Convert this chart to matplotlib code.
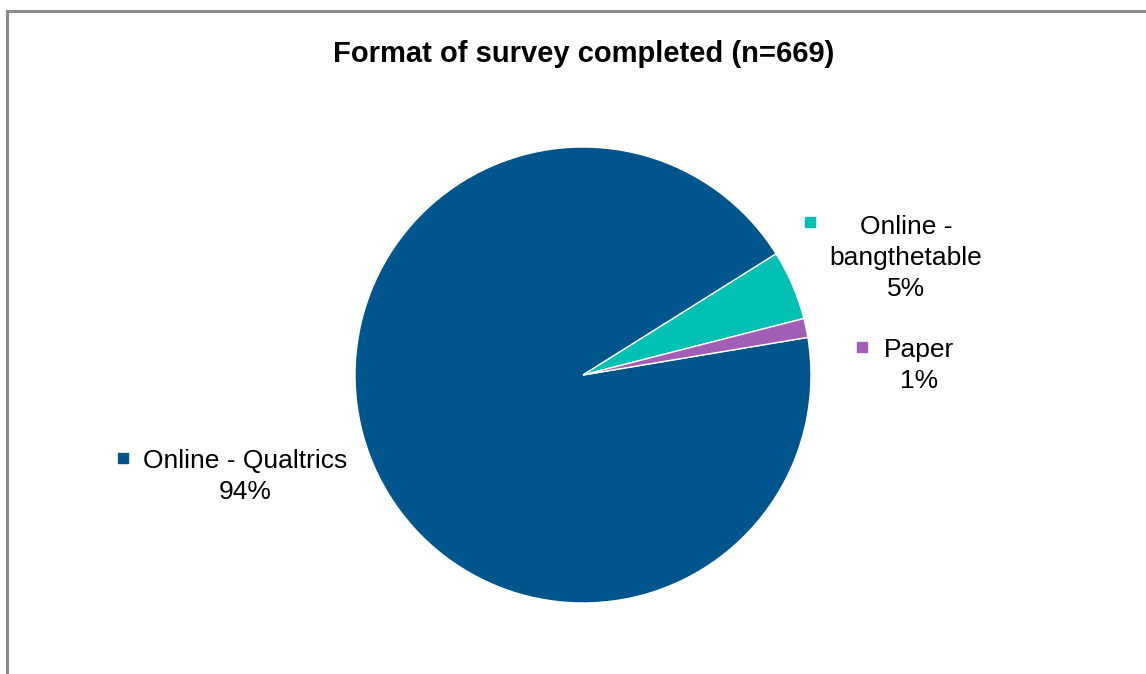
import numpy as np
import matplotlib.pyplot as plt
from matplotlib.lines import Line2D

plt.rcParams['font.family'] = ['Liberation Sans', 'DejaVu Sans']

# data
labels = ['Online - Qualtrics', 'Online -\nbangthetable', 'Paper']
counts = [627, 33, 9]
colors = ['#00568C', '#00BFB3', '#A05EB5']

total = sum(counts)
pcts = [f'{round(100 * c / total)}%' for c in counts]

W, H = 1146, 674
fig = plt.figure(figsize=(W / 100, H / 100), dpi=100)
ax = fig.add_axes([0, 0, 1, 1])

# pie, clockwise like excel
ax.pie(counts, colors=colors, center=(583, H - 375), radius=228,
       startangle=9.5, counterclock=False,
       wedgeprops=dict(edgecolor='white', linewidth=1.0), frame=True)
ax.set_xlim(0, W)
ax.set_ylim(0, H)
ax.set_aspect('equal')
ax.axis('off')

# labels with little legend keys
text_pos = [(245, H - 476.5), (906, H - 258), (919, H - 365.5)]
key_pos = [(123, H - 458), (810, H - 222), (862, H - 347)]
for lab, p, c, tp, kp in zip(labels, pcts, colors, text_pos, key_pos):
    ax.text(tp[0], tp[1], lab + '\n' + p, ha='center', va='center',
            multialignment='center', fontsize=19, linespacing=1.38, color='#000000')
    ax.plot(kp[0], kp[1], marker='s', markersize=7.5, color=c, linestyle='none')

ax.text(584, H - 54, 'Format of survey completed (n=669)', ha='center', va='center',
        fontsize=21, fontweight='bold')

# chart border (only top and left visible)
fig.add_artist(Line2D([7 / W, 1], [1 - 11 / H, 1 - 11 / H], color='#8C8C8C', linewidth=2.2))
fig.add_artist(Line2D([7 / W, 7 / W], [0, 1 - 11 / H], color='#8C8C8C', linewidth=2.2))

fig.savefig('out.png', dpi=100)
